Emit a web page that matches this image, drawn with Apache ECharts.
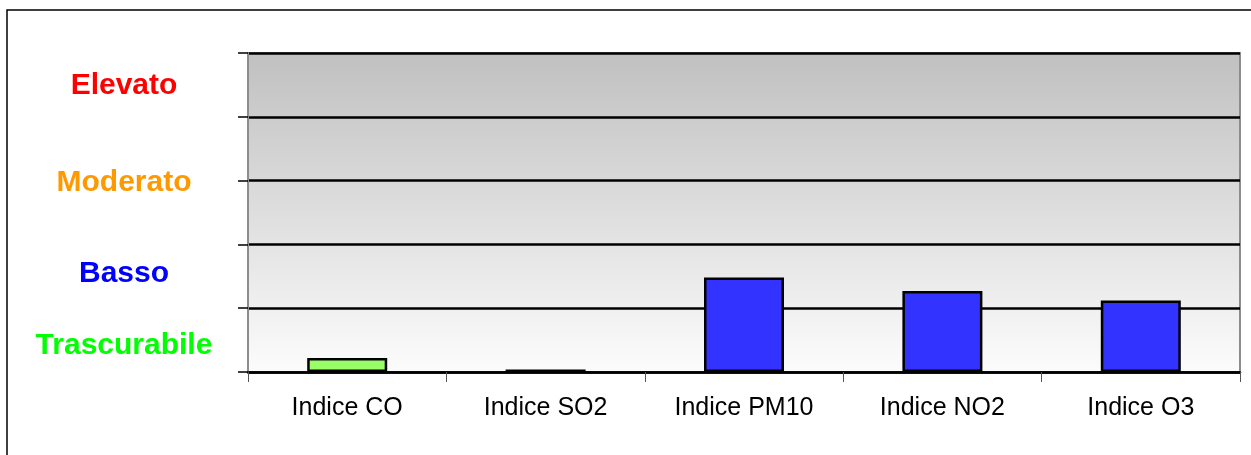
<!DOCTYPE html>
<html><head><meta charset="utf-8">
<script src="https://cdn.jsdelivr.net/npm/echarts@6/dist/echarts.min.js"></script>
<style>html,body{margin:0;padding:0;background:#fff;}#c{width:1251px;height:455px;}</style>
</head><body><div id="c"></div>
<script>
var categories = ['Indice CO', 'Indice SO2', 'Indice PM10', 'Indice NO2', 'Indice O3'];
var values = [0.22, 0.04, 1.48, 1.27, 1.12];
var barColors = ['#99ff66', '#99ff66', '#3333ff', '#3333ff', '#3333ff'];
var levelNames = ['Elevato', 'Moderato', 'Basso', 'Trascurabile'];
var levelPositions = [4.48, 2.96, 1.54, 0.41];
var levelColors = ['#ff0000', '#ff9900', '#0000ff', '#00ff00'];

var chart = echarts.init(document.getElementById('c'), null, {renderer: 'canvas'});
var option = {
  animation: false,
  backgroundColor: '#ffffff',
  grid: {
    left: 248, right: 11, top: 53, bottom: 83,
    show: true,
    borderWidth: 2, borderColor: '#8c8c8c',
    backgroundColor: {
      type: 'linear', x: 0, y: 0, x2: 0, y2: 1,
      colorStops: [{offset: 0, color: '#c0c0c0'}, {offset: 1, color: '#fcfcfc'}]
    }
  },
  xAxis: {
    type: 'category',
    data: categories,
    axisLine: {show: true, lineStyle: {color: '#000', width: 2.5}},
    axisTick: {show: true, length: 10, lineStyle: {color: '#555', width: 1}},
    axisLabel: {color: '#000', fontSize: 25, fontFamily: 'Liberation Sans, Arial, sans-serif', margin: 24}
  },
  yAxis: {
    type: 'value', min: 0, max: 5, interval: 1,
    axisLine: {show: true, lineStyle: {color: '#8c8c8c', width: 2}},
    axisTick: {show: true, length: 10, lineStyle: {color: '#000', width: 1.5}},
    axisLabel: {show: false},
    splitLine: {show: true, lineStyle: {color: '#000', width: 2.5}}
  },
  series: [{
    type: 'bar',
    data: values.map(function (v, i) {
      return {value: v, itemStyle: {color: barColors[i]}};
    }),
    barWidth: 80,
    itemStyle: {borderColor: '#000', borderWidth: 2.5}
  }]
};
chart.setOption(option);

var g = [{
  type: 'rect', shape: {x: 7, y: 10, width: 1400, height: 600},
  style: {fill: 'none', stroke: '#000', lineWidth: 1.5}, silent: true, z: -1
}];
levelNames.forEach(function (name, i) {
  var y = chart.convertToPixel({yAxisIndex: 0}, levelPositions[i]);
  g.push({
    type: 'text', x: 124, y: y,
    style: {
      text: name, fill: levelColors[i],
      font: 'bold 30px "Liberation Sans", Arial, sans-serif',
      textAlign: 'center', textVerticalAlign: 'middle'
    }
  });
});
chart.setOption({graphic: g});
</script>
</body></html>
